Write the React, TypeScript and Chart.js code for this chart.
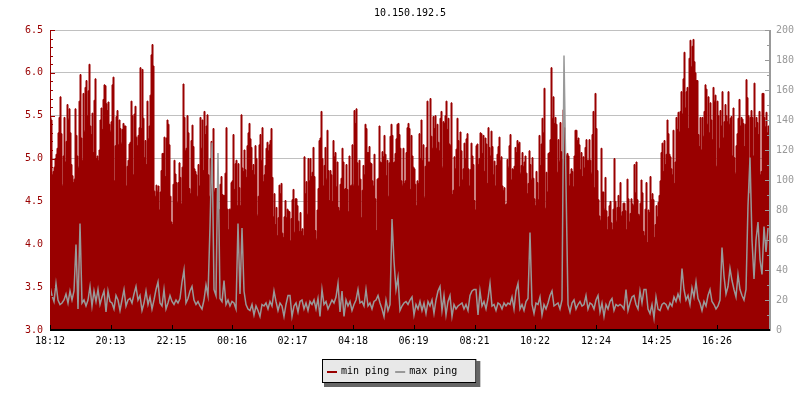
import React, { useEffect, useRef } from "react";
import { Chart, registerables } from "chart.js";

Chart.register(...registerables);

const TITLE = "10.150.192.5";
const START_TIME = "18:12";
const MIN_SAMPLE_MINUTES = 2;
const MAX_SAMPLE_MINUTES = 4;
const SERIES_LABELS = ["min ping", "max ping"];
const X_TICK_LABELS = ["18:12", "20:13", "22:15", "00:16", "02:17", "04:18", "06:19", "08:21", "10:22", "12:24", "14:25", "16:26"];
const LEFT_MIN = 3.0;
const LEFT_MAX = 6.5;
const LEFT_STEP = 0.5;
const RIGHT_MIN = 0;
const RIGHT_MAX = 200;
const RIGHT_STEP = 20;

const MIN_PING = [
  5.48,5.45,4.81,4.85,4.9,5.0,5.05,5.12,5.3,5.48,5.72,5.29,4.69,5.03,5.48,4.96,5.2,5.63,5.46,5.58,5.3,4.93,4.8,4.72,4.76,5.58,5.27,5.03,4.9,5.67,
  5.98,5.24,4.98,5.76,5.32,5.83,5.91,5.5,5.79,6.1,5.38,5.28,5.53,5.07,5.68,5.93,5.0,5.03,4.98,5.1,
  5.45,5.59,5.34,5.69,5.86,5.85,5.64,5.56,5.66,5.4,5.32,5.43,5.86,5.95,4.74,5.15,5.49,5.56,5.16,5.45,
  5.35,5.18,5.34,5.41,5.38,5.38,4.68,4.91,4.98,5.17,5.19,5.67,5.5,4.81,5.52,5.61,5.25,5.15,5.27,5.36,
  6.06,5.35,6.04,5.47,5.01,5.21,4.93,5.67,5.23,5.38,5.74,6.21,6.33,6.08,4.62,4.56,4.69,4.62,4.68,4.4,
  4.61,4.86,5.06,5.06,5.25,4.79,5.24,5.45,5.4,5.16,4.56,4.26,4.23,4.7,4.98,4.82,4.72,4.49,4.72,4.95,
  4.78,4.47,4.9,5.87,5.48,5.09,5.12,5.5,5.3,4.65,4.59,5.21,5.39,5.14,4.88,4.85,4.81,4.56,4.93,4.68,
  5.48,5.12,5.45,4.86,5.55,5.28,5.38,5.51,4.81,4.56,5.0,5.2,5.03,5.35,4.62,4.65,4.65,4.65,4.41,4.4,
  4.7,4.79,4.58,4.57,4.57,4.83,5.36,4.41,4.17,4.41,
  4.41,4.72,4.74,5.28,4.64,4.94,4.98,4.45,4.94,4.66,4.45,5.51,4.89,4.85,5.1,4.87,4.78,5.15,5.3,5.41,
  5.23,5.13,4.86,4.93,4.81,5.15,5.0,4.34,4.56,5.16,5.28,4.98,5.36,4.73,4.81,4.92,5.12,5.19,5.09,5.16,
  5.21,5.35,4.78,4.32,4.59,4.23,4.43,4.1,4.31,4.69,4.59,4.71,4.13,4.08,4.32,4.51,4.31,4.41,4.39,4.38,
  4.04,4.3,4.52,4.64,4.14,4.53,4.53,4.45,4.27,4.15,4.37,4.15,4.18,4.1,5.02,4.59,4.73,4.35,5.0,4.74,
  5.0,4.79,4.84,5.13,4.79,4.16,4.06,4.4,4.65,5.21,5.24,5.55,5.0,4.68,4.92,5.13,4.76,5.33,4.86,4.51,
  4.86,4.81,4.5,5.21,5.02,5.07,4.67,4.96,4.43,4.39,4.7,4.77,5.12,4.96,4.64,4.65,4.93,4.64,4.38,5.03,
  4.68,4.69,5.16,4.69,5.56,5.41,5.58,4.95,4.68,4.98,4.76,4.31,4.63,4.92,4.81,5.4,5.35,5.07,5.07,5.14,
  4.95,4.94,4.74,4.68,5.05,4.53,4.16,4.76,4.77,5.38,4.96,4.95,5.08,5.02,5.27,5.05,4.8,4.98,4.56,4.95,
  5.26,5.4,5.27,4.95,4.96,5.06,5.23,5.4,5.41,5.28,5.12,4.74,4.69,5.12,4.71,4.74,5.07,5.36,5.41,5.35,
  4.64,
  5.27,5.03,4.9,4.88,4.7,4.45,4.74,4.71,5.29,5.0,5.45,4.98,5.16,4.55,4.91,5.13,5.67,4.96,4.96,5.7,
  5.26,5.12,5.49,5.35,5.5,5.12,5.4,5.19,5.09,5.47,5.55,4.9,5.43,5.41,5.5,5.67,5.34,5.47,5.17,5.15,
  5.65,4.58,4.63,5.02,4.88,5.11,5.47,5.21,4.67,5.31,5.09,4.75,4.88,5.18,5.0,5.23,5.29,4.88,4.68,4.87,
  5.18,5.03,4.93,4.51,4.4,5.15,5.17,4.93,5.0,5.3,5.29,5.06,5.27,4.85,5.24,5.17,4.71,5.36,5.13,5.03,
  5.32,5.14,4.81,4.97,4.68,4.92,5.05,5.14,5.25,4.98,5.02,4.68,4.63,4.66,4.46,4.47,4.99,4.9,5.15,5.28,
  4.75,4.88,4.87,4.91,5.13,5.07,5.21,5.17,5.19,4.83,4.92,5.07,4.91,4.96,5.03,4.83,4.59,4.71,5.09,4.93,
  4.76,5.01,4.77,4.53,4.45,4.85,4.72,4.52,5.27,4.92,5.17,5.47,5.3,5.82,4.42,4.84,4.61,5.06,5.07,5.22,
  6.06,5.47,5.72,5.41,5.48,5.4,4.84,5.22,4.97,5.42,5.08,4.99,5.57,5.36,5.05,5.03,5.06,5.03,4.68,4.82,
  4.88,4.85,4.67,5.03,5.33,5.33,5.21,5.24,5.16,4.87,5.07,4.79,5.02,4.89,5.13,5.22,4.98,4.98,
  5.22,4.98,4.83,5.28,5.55,4.66,5.76,5.35,4.86,4.52,4.33,4.28,5.12,4.61,4.61,4.41,4.78,4.39,4.17,4.32,
  4.45,4.5,4.25,4.17,4.41,5.0,4.5,4.27,4.43,4.57,4.43,4.72,4.33,4.38,4.48,4.48,4.39,4.17,4.76,4.53,
  4.26,4.36,4.53,4.47,4.45,4.93,4.6,4.96,4.52,4.35,4.34,4.48,4.75,4.6,4.15,4.1,4.41,4.72,4.02,4.4,
  4.37,4.79,4.52,4.59,4.52,4.08,4.23,4.45,4.32,4.49,4.57,4.74,5.07,5.18,4.85,5.21,4.93,5.05,5.45,5.29,
  5.05,5.02,4.88,4.81,5.33,4.71,4.96,5.48,5.34,5.54,5.31,5.55,5.78,5.52,5.93,6.24,5.59,5.78,5.83,5.35,
  6.17,6.38,6.07,6.31,6.39,6.13,6.0,5.91,5.91,5.28,5.14,5.48,5.1,5.48,5.26,5.55,5.86,5.81,5.4,5.72,
  5.3,5.65,5.45,5.22,5.83,5.67,5.74,4.91,5.67,5.5,5.12,5.56,5.38,5.78,5.24,5.43,5.63,5.5,5.43,5.78,
  5.4,5.47,5.49,5.03,5.59,5.01,4.83,5.15,5.29,5.47,5.69,5.38,5.48,5.46,5.41,5.14,5.4,5.92,5.71,5.5,
  4.59,5.48,5.56,5.48,5.03,5.88,5.36,5.48,5.42,5.28,5.55,4.81,4.85,5.76,5.76,5.48,5.37,5.54,5.3,5.38,
  5.27,5.26,
];

const MAX_PING = [
  29,23,19,31,20,17,18,20,24,18,26,20,26,57,14,71,18,
  20,16,20,29,16,26,19,27,17,22,26,12,26,19,18,14,23,20,13,20,27,16,20,21,18,24,29,20,23,13,
  18,26,17,22,14,20,27,32,18,16,27,14,18,23,19,17,20,18,21,32,40,
  18,21,26,29,20,17,19,16,14,20,30,23,
  69,125,27,23,118,21,19,33,17,20,16,19,18,14,71,24,68,26,17,14,13,17,10,16,13,9,17,16,18,14,19,16,26,19,13,18,16,9,17,23,
  23,9,16,18,12,19,20,14,18,13,19,17,20,14,21,9,27,17,19,14,17,20,18,22,31,12,26,9,20,
  16,19,13,17,20,27,18,19,16,27,16,18,14,19,20,23,18,14,9,20,13,17,
  74,
  46,27,35,13,16,18,19,17,20,22,10,17,14,19,13,18,11,19,16,20,11,20,26,29,13,
  23,10,19,23,9,17,14,16,17,18,14,17,13,23,26,27,27,10,26,16,19,14,21,31,16,17,13,18,
  17,14,18,16,18,17,22,14,26,31,14,17,13,19,21,
  65,17,11,18,17,22,10,17,14,18,23,26,16,17,18,14,20,183,97,
  17,12,18,20,14,17,19,16,17,23,14,18,17,14,20,23,12,18,9,17,14,19,21,13,17,16,17,
  16,14,27,13,18,22,23,17,14,26,18,27,27,14,11,17,8,22,14,13,17,18,17,14,18,16,22,19,24,20,
  41,27,20,23,17,28,22,32,21,18,13,19,16,23,27,19,17,14,16,20,
  55,36,24,29,41,33,27,22,37,27,23,20,27,83,115,60,34,60,72,47,37,69,52,68,
];

const RED = "#990000";
const GREY = "#999999";
const GRID = "#c0c0c0";
const FONT_FAMILY = "'DejaVu Sans Mono', monospace";
const FONT_SIZE = 10;

function minutesFromStart(label: string): number {
  const [h, m] = label.split(":").map(Number);
  const [sh, sm] = START_TIME.split(":").map(Number);
  return (h * 60 + m - (sh * 60 + sm) + 1440) % 1440;
}

const titlePlugin = {
  id: "rrdTitle",
  afterDraw(chart: any) {
    const { ctx, chartArea } = chart;
    ctx.save();
    ctx.font = `${FONT_SIZE}px ${FONT_FAMILY}`;
    ctx.fillStyle = "#000";
    ctx.textAlign = "center";
    ctx.textBaseline = "middle";
    ctx.fillText(TITLE, (chartArea.left + chartArea.right) / 2, 13);
    ctx.restore();
  },
};

const axesPlugin = {
  id: "rrdAxes",
  afterDatasetsDraw(chart: any) {
    const { ctx, chartArea, scales } = chart;
    const { left, right, top, bottom } = chartArea;
    ctx.save();
    ctx.fillStyle = RED;
    ctx.fillRect(left, top, 1, bottom - top);
    const y = scales.y;
    for (let i = 0; i <= Math.round((LEFT_MAX - LEFT_MIN) / 0.1); i++) {
      const v = LEFT_MIN + i * 0.1;
      const py = Math.round(y.getPixelForValue(v));
      const major = i % 5 === 0;
      ctx.fillRect(left, py, major ? 5 : 3, 1);
    }
    ctx.fillStyle = GREY;
    ctx.fillRect(right - 1, top, 2, bottom - top + 1);
    const y2 = scales.y2;
    for (let v = RIGHT_MIN; v <= RIGHT_MAX; v += RIGHT_STEP / 2) {
      const py = Math.round(y2.getPixelForValue(v));
      const major = v % RIGHT_STEP === 0;
      const len = major ? 5 : 3;
      ctx.fillRect(right - len, py, len, 1);
    }
    ctx.fillStyle = "#000";
    ctx.fillRect(left, bottom - 1, right - left, 2);
    const x = scales.x;
    X_TICK_LABELS.forEach((l) => {
      const px = Math.round(x.getPixelForValue(minutesFromStart(l)));
      ctx.fillRect(px, bottom - 5, 1, 5);
    });
    ctx.restore();
  },
};

const legendPlugin = {
  id: "rrdLegend",
  afterDraw(chart: any) {
    const { ctx } = chart;
    const ds = chart.data.datasets;
    ctx.save();
    ctx.font = `${FONT_SIZE}px ${FONT_FAMILY}`;
    const padL = 5, sw = 10, gapS = 4, gapItem = 6, padR = 19;
    const widths = ds.map((d: any) => ctx.measureText(d.label).width);
    let w = padL + padR;
    widths.forEach((tw: number, i: number) => {
      w += sw + gapS + tw + (i < widths.length - 1 ? gapItem : 0);
    });
    const h = 24;
    const x0 = Math.round(chart.width / 2 - 1 - w / 2);
    const y0 = 359;
    ctx.fillStyle = "#666666";
    ctx.fillRect(x0 + 2, y0 + 2, w + 2, h + 2);
    ctx.fillStyle = "#e8e8e8";
    ctx.fillRect(x0, y0, w, h);
    ctx.strokeStyle = "#000";
    ctx.lineWidth = 1;
    ctx.strokeRect(x0 + 0.5, y0 + 0.5, w - 1, h - 1);
    let cx = x0 + padL;
    ds.forEach((d: any, i: number) => {
      ctx.fillStyle = d.borderColor;
      ctx.fillRect(cx, y0 + 12, sw, 2);
      cx += sw + gapS;
      ctx.fillStyle = "#000";
      ctx.textAlign = "left";
      ctx.textBaseline = "middle";
      ctx.fillText(d.label, cx, y0 + 12);
      cx += widths[i] + gapItem;
    });
    ctx.restore();
  },
};

export default function App() {
  const ref = useRef<HTMLCanvasElement | null>(null);

  useEffect(() => {
    if (!ref.current) return;
    const font = { family: FONT_FAMILY, size: FONT_SIZE };
    const xMax = (MIN_PING.length - 1) * MIN_SAMPLE_MINUTES;
    const chart = new Chart(ref.current, {
      type: "line",
      data: {
        datasets: [
          {
            label: SERIES_LABELS[0],
            data: MIN_PING.map((v, i) => ({ x: i * MIN_SAMPLE_MINUTES, y: v })),
            yAxisID: "y",
            xAxisID: "x",
            borderColor: RED,
            backgroundColor: RED,
            borderWidth: 1,
            fill: "start",
            stepped: true,
            pointRadius: 0,
            order: 2,
          },
          {
            label: SERIES_LABELS[1],
            data: MAX_PING.map((v, i) => ({ x: i * MAX_SAMPLE_MINUTES, y: v })),
            yAxisID: "y2",
            xAxisID: "x",
            borderColor: GREY,
            backgroundColor: GREY,
            borderWidth: 1.5,
            fill: false,
            pointRadius: 0,
            tension: 0,
            order: 1,
          },
        ],
      },
      options: {
        responsive: false,
        animation: false,
        events: [],
        devicePixelRatio: 1,
        layout: { padding: { top: 30, left: 0, right: 0, bottom: 0 } },
        plugins: {
          legend: { display: false },
          title: { display: false },
          tooltip: { enabled: false },
        },
        scales: {
          x: {
            type: "linear",
            min: 0,
            max: xMax,
            afterBuildTicks: (s: any) => {
              s.ticks = X_TICK_LABELS.map((l) => ({ value: minutesFromStart(l) }));
            },
            afterFit: (s: any) => {
              s.height = 70;
            },
            ticks: {
              autoSkip: false,
              maxRotation: 0,
              padding: 5,
              color: "#000",
              font,
              callback: (_v: any, i: number) => X_TICK_LABELS[i],
            },
            grid: { display: false, drawTicks: false },
            border: { display: false },
          },
          y: {
            type: "linear",
            position: "left",
            min: LEFT_MIN,
            max: LEFT_MAX,
            afterFit: (s: any) => {
              s.width = 50;
            },
            ticks: {
              stepSize: LEFT_STEP,
              padding: 7,
              color: RED,
              font,
              callback: (v: any) => Number(v).toFixed(1),
            },
            grid: { color: GRID, lineWidth: 1, drawTicks: false },
            border: { display: false },
          },
          y2: {
            type: "linear",
            position: "right",
            min: RIGHT_MIN,
            max: RIGHT_MAX,
            afterFit: (s: any) => {
              s.width = 30;
            },
            ticks: {
              stepSize: RIGHT_STEP,
              padding: 6,
              color: GREY,
              font,
            },
            grid: { display: false, drawTicks: false },
            border: { display: false },
          },
        },
      },
      plugins: [titlePlugin, axesPlugin, legendPlugin],
    } as any);
    return () => chart.destroy();
  }, []);

  return (
    <div style={{ position: "fixed", left: 0, top: 0, width: 800, height: 400, background: "#fff" }}>
      <canvas ref={ref} width={800} height={400} style={{ display: "block" }} />
    </div>
  );
}
